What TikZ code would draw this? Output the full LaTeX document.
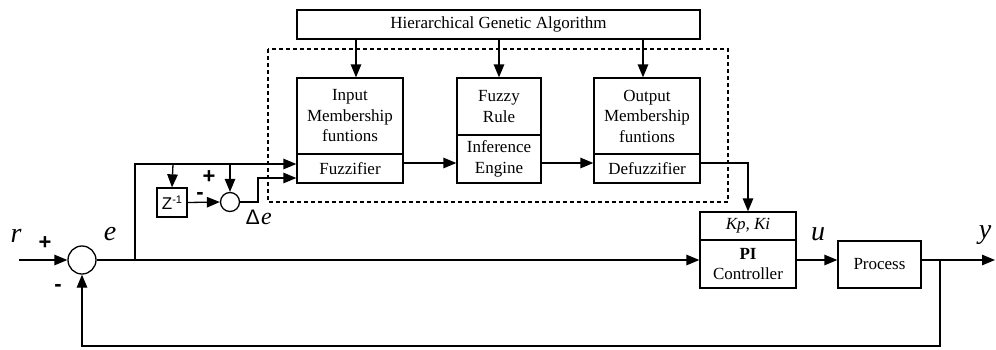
\documentclass[tikz,border=0pt]{standalone}
\usepackage{fontspec}
\setmainfont{Liberation Serif}
\newfontfamily\sansf{Liberation Sans}
\usetikzlibrary{arrows.meta,calc}
\begin{document}
\begin{tikzpicture}[x=1pt,y=-1pt,
  line width=1.3pt,
  >={Triangle[length=13pt,width=10.5pt]},
  blk/.style={draw,rectangle,inner sep=0pt,align=center,font=\fontsize{17}{20.5}\selectfont},
  sumc/.style={draw,circle,inner sep=0pt},
  var/.style={font=\fontsize{28}{28}\selectfont\itshape,inner sep=0pt},
  sgn/.style={font=\sansf\bfseries\fontsize{22}{22}\selectfont,inner sep=0pt}]
\useasboundingbox (0,0) rectangle (996,349);

% fuzzy tuner, dashed frame
\draw[dashed,dash pattern=on 4pt off 3pt,line width=1.1pt] (268,49) rectangle (728,202);

% genetic algorithm on top
\node[blk,minimum width=403pt,minimum height=29pt] (hga) at (498.5,24.5) {Hierarchical Genetic Algorithm};

% fuzzy blocks
\node[blk,minimum width=106pt,minimum height=76pt] (inmf) at (350,116) {Input\\Membership\\funtions};
\node[blk,minimum width=106pt,minimum height=29pt] (fuzz) at (350,168.5) {Fuzzifier};
\node[blk,minimum width=84pt,minimum height=57pt] (rule) at (499,106.5) {Fuzzy\\Rule};
\node[blk,minimum width=84pt,minimum height=48pt] (inf) at (499,159) {Inference\\Engine};
\node[blk,minimum width=106pt,minimum height=76pt] (outmf) at (647,116) {Output\\Membership\\funtions};
\node[blk,minimum width=106pt,minimum height=29pt] (defz) at (647,168.5) {Defuzzifier};

% PI controller and process
\node[blk,minimum width=96pt,minimum height=28pt] (pit) at (748,226) {\textit{Kp, Ki}};
\node[blk,minimum width=96pt,minimum height=48pt] (pib) at (748,264) {\textbf{PI}\\Controller};
\node[blk,minimum width=83pt,minimum height=47pt] (proc) at (879.5,264.5) {Process};

% summing junctions and delay
\node[sumc,minimum size=28pt] (s1) at (82,260) {};
\node[sumc,minimum size=19pt] (s2) at (230,202) {};
\node[blk,minimum width=30pt,minimum height=29pt] (zd) at (172,202.5) {\sansf\fontsize{17}{17}\selectfont Z\raisebox{6pt}{\fontsize{11}{11}\selectfont -1}};

% auxiliary points
\coordinate (rin) at (19,260);
\coordinate (b1) at (135,260);
\coordinate (b1up) at (135,164);
\coordinate (tz) at (173,164);
\coordinate (ts) at (230,164);
\coordinate (de1) at (258,202);
\coordinate (de2) at (258,178);
\coordinate (fb) at (940,260);
\coordinate (fb1) at (940,346);
\coordinate (fb2) at (82,346);
\coordinate (yout) at (995,260);
\coordinate (dc) at (748,163);

% genetic algorithm outputs
\draw[->] ([xshift=6pt]inmf.north |- hga.south) -- ([xshift=6pt]inmf.north);
\draw[->] (rule.north |- hga.south) -- (rule.north);
\draw[->] ([xshift=-4pt]outmf.north |- hga.south) -- ([xshift=-4pt]outmf.north);

% fuzzy chain
\draw[->] (fuzz.east |- 0,163) -- (inf.west |- 0,163);
\draw[->] (inf.east |- 0,163) -- (defz.west |- 0,163);
\draw[->] (defz.east |- 0,163) -- (dc) -- (pit.north);

% main loop
\draw[->] (rin) -- (s1.west);
\draw (s1.east) -- (b1);
\draw[->] (b1) -- (b1 -| pib.west);
\draw[->] (pib.east |- b1) -- (proc.west |- b1);
\draw[->] (proc.east |- b1) -- (yout);
\draw[->] (fb) -- (fb1) -- (fb2) -- (s1.south);

% error and change of error
\draw[->] (b1) -- (b1up) -- (fuzz.west |- b1up);
\draw[->] (tz) -- (zd.north);
\draw[->] (ts) -- (s2.north);
\draw[->] (zd.east) -- (s2.west);
\draw[->] (s2.east) -- (de1) -- (de2) -- (fuzz.west |- de2);

% signal labels
\node[var] (lr) at (16,236) {r};
\node[var] (le) at (110,234) {e};
\node[var] (lu) at (818,234) {u};
\node[var] (ly) at (985,235) {y};
\node[inner sep=0pt] (lde) at (259,217) {\sansf\fontsize{21}{21}\selectfont ∆\kern2pt\fontsize{24}{24}\selectfont\rmfamily\itshape e};
\node[sgn] (p1) at (45,243) {+};
\node[sgn] (m1) at (58,288) {-};
\node[sgn] (p2) at (209,177) {+};
\node[sgn] (m2) at (200,196) {-};
\end{tikzpicture}
\end{document}
